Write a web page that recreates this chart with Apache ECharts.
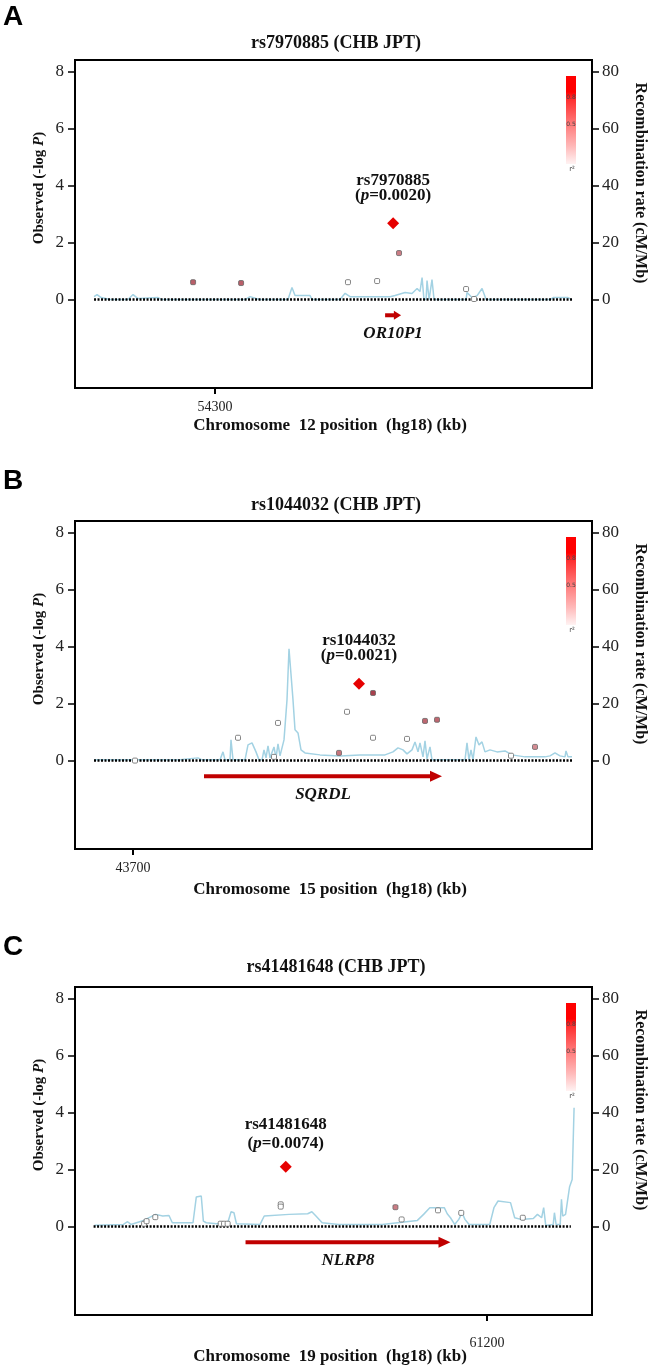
<!DOCTYPE html>
<html><head><meta charset="utf-8">
<script src="https://cdn.jsdelivr.net/npm/echarts@6/dist/echarts.min.js"></script>
<style>html,body{margin:0;padding:0;background:#fff}#c{width:651px;height:1367px}</style>
</head><body><div id="c"></div>
<script>
// ================= DATA =================
const panelLetters = ['A', 'B', 'C'];
const panelTitles = ['rs7970885 (CHB JPT)', 'rs1044032 (CHB JPT)', 'rs41481648 (CHB JPT)'];
const chromosomes = ['12', '15', '19'];
const xTickValues = [[54300], [43700], [61200]];
const xRanges = [[54291.25, 54323.56], [43688.4, 43791.8], [61135.625, 61216.4]];
const baselineRanges = [[54292.44, 54322.31], [43692.2, 43787.8], [61138.53, 61213.1]];
const leftTicks = [0, 2, 4, 6, 8];
const rightTicks = [0, 20, 40, 60, 80];

// recombination rate (kb, cM/Mb)
const recombA = [[54292.44,1.05],[54292.63,1.76],[54292.88,0.7],[54293.44,0],[54294.56,0],[54294.88,1.76],[54295.19,0.35],[54296.44,0.7],[54296.69,0],[54301.88,0],[54302.19,1.05],[54302.56,0.35],[54302.81,0],[54304.56,0],[54304.81,4.2],[54305.00,1.4],[54305.94,1.4],[54306.06,0],[54307.81,0],[54308.13,2.2],[54308.44,1.0],[54310.94,1.0],[54311.25,1.4],[54311.88,2.5],[54312.31,2.1],[54312.63,3.9],[54312.81,2.8],[54312.94,7.7],[54313.06,0],[54313.19,0],[54313.25,6.7],[54313.38,0],[54313.50,0],[54313.56,7.0],[54313.69,0],[54315.69,0],[54315.75,2.5],[54316.06,0.7],[54316.38,1.4],[54316.69,3.9],[54316.94,0],[54320.94,0],[54321.13,0.7],[54322.06,0.7],[54322.31,0]];
const recombB = [[43692.2,0.25],[43709.4,0.25],[43709.8,0.95],[43713.0,0.95],[43713.8,0.25],[43717.4,0.25],[43718.0,3.05],[43718.4,0.25],[43719.4,0.25],[43719.6,7.3],[43720.0,0.25],[43722.4,0.25],[43723.0,5.5],[43723.8,6.2],[43724.6,3.05],[43725.2,0.25],[43725.8,0.25],[43726.2,3.75],[43726.6,0.95],[43727.0,5.15],[43727.4,0.95],[43728.2,4.8],[43728.6,0.95],[43729.0,5.85],[43729.4,1.65],[43730.2,7.26],[43730.8,21.3],[43731.2,39.2],[43731.6,39.5],[43732.0,21.3],[43732.4,10.8],[43733.0,9.7],[43733.6,3.75],[43734.4,2.7],[43737.4,2.0],[43741.4,1.65],[43745.4,2.0],[43750.4,2.0],[43752.0,3.05],[43753.0,4.45],[43754.0,3.75],[43754.8,2.35],[43755.8,3.75],[43756.4,6.55],[43757.0,3.05],[43757.4,6.2],[43758.0,1.3],[43758.4,6.9],[43758.8,0.6],[43759.4,4.8],[43759.8,0.25],[43766.4,0.25],[43766.8,6.2],[43767.2,0.25],[43767.6,3.75],[43768.0,0.25],[43768.6,8.3],[43769.2,5.5],[43769.8,6.55],[43770.4,3.05],[43771.4,3.75],[43772.8,3.05],[43774.4,3.4],[43775.8,2.0],[43778.4,1.3],[43782.4,1.3],[43783.4,1.65],[43784.4,2.7],[43785.4,1.65],[43786.4,1.3],[43786.6,3.4],[43787.0,1.3],[43787.8,1.3]];
const recombC = [[61138.67,0.5],[61143.19,0.76],[61143.84,1.7],[61144.36,0.76],[61146.10,1.93],[61148.24,4.28],[61149.34,3.7],[61150.31,3.9],[61150.83,1.35],[61154.06,1.35],[61154.58,10.4],[61155.35,10.72],[61155.68,1.93],[61156.13,1.35],[61157.75,1.0],[61159.49,1.35],[61160.01,5.2],[61160.46,4.86],[61160.85,1.0],[61164.54,0.76],[61165.19,3.7],[61169.07,4.28],[61171.98,4.5],[61172.63,5.2],[61173.27,3.7],[61174.24,1.35],[61176.83,0.76],[61183.62,0.76],[61189.12,2.17],[61190.09,4.28],[61191.06,6.62],[61193.32,6.62],[61193.78,4.5],[61194.29,3.1],[61194.94,0.76],[61195.59,2.52],[61196.10,4.86],[61196.55,2.52],[61197.20,0.76],[61200.43,0.76],[61201.08,6.62],[61201.72,8.97],[61203.67,8.4],[61204.32,3.1],[61205.29,2.52],[61207.23,2.8],[61207.88,4.28],[61208.53,3.1],[61208.85,6.62],[61209.17,0.4],[61210.34,0.76],[61210.53,4.86],[61210.79,0.76],[61211.43,0.76],[61211.63,9.55],[61211.82,3.7],[61212.27,4.28],[61212.9,14.0],[61213.3,16.5],[61213.6,41.7]];

// SNPs (kb, -log P, r2)
const snpsA = [[54298.63,0.61,0.5],[54301.63,0.58,0.5],[54308.31,0.61,0],[54310.13,0.65,0],[54311.50,1.63,0.3],[54315.69,0.37,0],[54316.19,0.02,0]];
const snpsB = [[43700.4,0.0,0],[43721.0,0.8,0],[43729.0,1.32,0],[43728.2,0.13,0],[43741.2,0.27,0.35],[43742.8,1.71,0],[43748.0,2.37,0.7],[43748.0,0.8,0],[43754.8,0.76,0],[43758.4,1.39,0.45],[43760.8,1.43,0.45],[43775.6,0.17,0],[43780.4,0.48,0.2]];
const snpsC = [[61146.42,0.1,0],[61146.81,0.19,0],[61148.17,0.33,0],[61158.39,0.1,0],[61158.91,0.1,0],[61159.48,0.1,0],[61167.77,0.78,0],[61167.77,0.7,0],[61185.69,0.68,0.3],[61186.66,0.25,0],[61192.34,0.57,0],[61195.97,0.48,0],[61205.59,0.31,0]];

// lead SNPs
const leadSnps = [[54311.13, 2.68], [43745.2, 2.69], [61168.55, 2.10]];
const leadNames = ['rs7970885', 'rs1044032', 'rs41481648'];
const leadP = ['0.0020', '0.0021', '0.0074'];

// genes [start kb, end kb]
const geneNames = ['OR10P1', 'SQRDL', 'NLRP8'];
const geneSpans = [[54310.63, 54311.63], [43714.2, 43761.8], [61162.27, 61194.29]];

// ================= LAYOUT / STYLE =================
const SERIF = '"Liberation Serif","Times New Roman",serif';
const gridTops = [60, 521, 987];
const dys = [0, 461, 927];
const letterY = [17, 481, 947];
const titleY = [43, 505, 967];
const xlabY = [426, 890, 1357];
const xLabMargin = [12, 12, 21];
const leadLH = [15, 15, 19];
const leadDist = [14, 15, 7.5];
const recombs = [recombA, recombB, recombC];
const snps = [snpsA, snpsB, snpsC];

function ldColor(r2) {
  if (r2 < 0.05) return '#ffffff';
  const r = Math.round(230 - 90 * r2), g = Math.round(170 - 150 * r2), b = Math.round(175 - 140 * r2);
  return 'rgb(' + r + ',' + g + ',' + b + ')';
}

function geneRender(name) {
  return function (params, api) {
    const s = api.value(0), e = api.value(1);
    const p0 = api.coord([s, -0.55]);
    const p1 = api.coord([e, -0.55]);
    const len = p1[0] - p0[0];
    const head = Math.min(12, len * 0.45);
    const hh = len < 30 ? 4.5 : 5.5;
    const lab = api.coord([(s + e) / 2, -1.2]);
    return {
      type: 'group', children: [
        { type: 'line', shape: { x1: p0[0], y1: p0[1], x2: p1[0] - head + 1, y2: p1[1] }, style: { stroke: '#c00000', lineWidth: 4 } },
        { type: 'polygon', shape: { points: [[p1[0] - head, p1[1] - hh], [p1[0], p1[1]], [p1[0] - head, p1[1] + hh]] }, style: { fill: '#c00000' } },
        { type: 'text', x: lab[0], y: lab[1], style: { text: name, font: 'italic bold 17px ' + SERIF, fill: '#111', align: 'center', verticalAlign: 'middle' } }
      ]
    };
  };
}

const grid = [], xAxis = [], yAxis = [], series = [], graphic = [];
const tickLabelStyle = { color: '#222', fontFamily: SERIF, fontSize: 17 };

for (let i = 0; i < 3; i++) {
  grid.push({ left: 75, width: 517, top: gridTops[i], height: 328, show: true, borderColor: '#000', borderWidth: 2, backgroundColor: 'transparent' });
  xAxis.push({
    type: 'value', gridIndex: i, min: xRanges[i][0], max: xRanges[i][1], position: 'bottom',
    axisLine: { show: false, onZero: false }, splitLine: { show: false },
    axisTick: { show: true, customValues: xTickValues[i], length: 6, lineStyle: { color: '#000', width: 2 } },
    axisLabel: { show: true, customValues: xTickValues[i], formatter: v => String(v), margin: xLabMargin[i], color: '#222', fontFamily: SERIF, fontSize: 14 }
  });
  yAxis.push({
    type: 'value', gridIndex: i, position: 'left', min: -3.1, max: 8.4,
    axisLine: { show: false, onZero: false }, splitLine: { show: false },
    axisTick: { show: true, customValues: leftTicks, length: 7, lineStyle: { color: '#000', width: 1.5 } },
    axisLabel: Object.assign({ show: true, customValues: leftTicks, margin: 11 }, tickLabelStyle)
  });
  yAxis.push({
    type: 'value', gridIndex: i, position: 'right', min: -31, max: 84,
    axisLine: { show: false, onZero: false }, splitLine: { show: false },
    axisTick: { show: true, customValues: rightTicks, length: 7, lineStyle: { color: '#000', width: 1.5 } },
    axisLabel: Object.assign({ show: true, customValues: rightTicks, margin: 10 }, tickLabelStyle)
  });

  series.push({
    type: 'line', xAxisIndex: i, yAxisIndex: 2 * i + 1, data: recombs[i], showSymbol: false, silent: true, z: 2,
    lineStyle: { color: '#a3d2e3', width: 1.5 }
  });
  series.push({
    type: 'line', xAxisIndex: i, yAxisIndex: 2 * i, data: [[baselineRanges[i][0], 0], [baselineRanges[i][1], 0]], showSymbol: false, silent: true, z: 3,
    lineStyle: { color: '#000', width: 2.5, type: [2, 1.5] }
  });
  series.push({
    type: 'scatter', xAxisIndex: i, yAxisIndex: 2 * i, data: snps[i], symbol: 'roundRect', symbolSize: 5, silent: true, z: 4,
    itemStyle: { color: p => ldColor(p.value[2]), borderColor: '#666', borderWidth: 0.8, opacity: 1 }
  });
  series.push({
    type: 'scatter', xAxisIndex: i, yAxisIndex: 2 * i, data: [leadSnps[i]], symbol: 'diamond', symbolSize: 12, silent: true, z: 5,
    itemStyle: { color: '#e60000', opacity: 1 },
    label: {
      show: true, position: 'top', distance: leadDist[i], opacity: 1,
      formatter: '{n|' + leadNames[i] + '}\n{n|(}{i|p}{n|=' + leadP[i] + ')}',
      rich: {
        n: { fontFamily: SERIF, fontWeight: 'bold', fontSize: 17, color: '#111', lineHeight: leadLH[i] },
        i: { fontFamily: SERIF, fontWeight: 'bold', fontStyle: 'italic', fontSize: 17, color: '#111', lineHeight: leadLH[i] }
      }
    }
  });
  series.push({
    type: 'custom', xAxisIndex: i, yAxisIndex: 2 * i, coordinateSystem: 'cartesian2d', silent: true, z: 5,
    data: [geneSpans[i]], encode: { x: [0, 1] }, renderItem: geneRender(geneNames[i])
  });

  const dy = dys[i];
  graphic.push({ type: 'text', x: 3, y: letterY[i], style: { text: panelLetters[i], font: 'bold 28px "Liberation Sans",Arial,sans-serif', fill: '#000', verticalAlign: 'middle' } });
  graphic.push({ type: 'text', x: 336, y: titleY[i], style: { text: panelTitles[i], font: 'bold 18px ' + SERIF, fill: '#111', align: 'center', verticalAlign: 'middle' } });
  graphic.push({ type: 'text', x: 330, y: xlabY[i], style: { text: 'Chromosome  ' + chromosomes[i] + ' position  (hg18) (kb)', font: 'bold 17px ' + SERIF, fill: '#111', align: 'center', verticalAlign: 'middle' } });
  graphic.push({
    type: 'text', x: 39, y: 188 + dy, rotation: Math.PI / 2,
    style: {
      text: '{b|Observed (-log }{i|P}{b|)}', align: 'center', verticalAlign: 'middle',
      rich: { b: { font: 'bold 15px ' + SERIF, fill: '#111' }, i: { font: 'italic bold 15px ' + SERIF, fill: '#111' } }
    }
  });
  graphic.push({ type: 'text', x: 640, y: 183 + dy, rotation: -Math.PI / 2, style: { text: 'Recombination rate (cM/Mb)', font: 'bold 16px ' + SERIF, fill: '#111', align: 'center', verticalAlign: 'middle' } });
  graphic.push({
    type: 'rect', shape: { x: 566, y: 76 + dy, width: 10, height: 88 },
    style: { fill: new echarts.graphic.LinearGradient(0, 0, 0, 1, [
      { offset: 0, color: '#ff0000' }, { offset: 0.18, color: '#ff0000' }, { offset: 0.25, color: '#ff2a2a' },
      { offset: 0.5, color: '#ff6e6e' }, { offset: 0.8, color: '#ffb9b9' }, { offset: 1, color: '#fff3f3' }]) }
  });
  graphic.push({ type: 'text', x: 571, y: 97 + dy, style: { text: '0.8', font: '6px "DejaVu Sans",sans-serif', fill: '#444', align: 'center', verticalAlign: 'middle' } });
  graphic.push({ type: 'text', x: 571, y: 124 + dy, style: { text: '0.5', font: '6px "DejaVu Sans",sans-serif', fill: '#444', align: 'center', verticalAlign: 'middle' } });
  graphic.push({ type: 'text', x: 572, y: 169 + dy, style: { text: 'r²', font: '7px "DejaVu Sans",sans-serif', fill: '#444', align: 'center', verticalAlign: 'middle' } });
}

const chart = echarts.init(document.getElementById('c'), null, { renderer: 'canvas' });
chart.setOption({ animation: false, backgroundColor: '#fff', grid, xAxis, yAxis, series, graphic });
</script>
</body></html>
